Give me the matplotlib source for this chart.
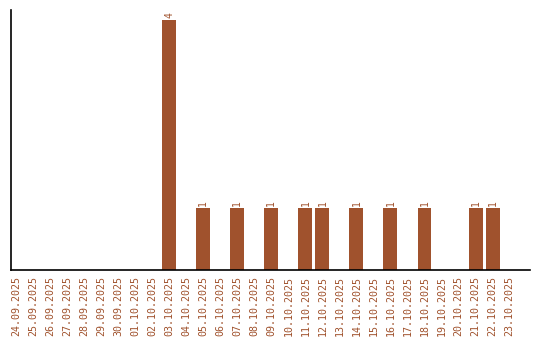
import matplotlib
matplotlib.use("Agg")
from matplotlib import pyplot as plt
import numpy as np

dates = ['24.09.2025', '25.09.2025', '26.09.2025', '27.09.2025', '28.09.2025',
         '29.09.2025', '30.09.2025', '01.10.2025', '02.10.2025', '03.10.2025',
         '04.10.2025', '05.10.2025', '06.10.2025', '07.10.2025', '08.10.2025',
         '09.10.2025', '10.10.2025', '11.10.2025', '12.10.2025', '13.10.2025',
         '14.10.2025', '15.10.2025', '16.10.2025', '17.10.2025', '18.10.2025',
         '19.10.2025', '20.10.2025', '21.10.2025', '22.10.2025', '23.10.2025']
counts = [0, 0, 0, 0, 0, 0, 0, 0, 0, 4,
          0, 1, 0, 1, 0, 1, 0, 1, 1, 0,
          1, 0, 1, 0, 1, 0, 0, 1, 1, 0]

color = '#A0522D'

fig = plt.figure(figsize=(5.4, 3.4), dpi=100)
ax = fig.add_axes([11 / 540, 70 / 340, 519 / 540, 260 / 340])

x = np.arange(len(dates))
ax.bar(x, counts, width=0.82, color=color)

# value labels above the non-empty bars
for xi, c in zip(x, counts):
    if c > 0:
        ax.text(xi, c + 0.03, str(c), rotation=90, ha='center', va='bottom',
                fontsize=7, family='DejaVu Sans Mono', color=color)

ax.set_xlim(-0.3, 30.2)
ax.set_ylim(0, 4.16)
ax.set_xticks(x)
ax.set_xticklabels(dates, rotation=90, fontsize=7.2, family='DejaVu Sans Mono', color=color)
ax.tick_params(axis='x', length=0, pad=4)
ax.set_yticks([])

for side in ['top', 'right']:
    ax.spines[side].set_visible(False)
ax.spines['left'].set_linewidth(1.2)
ax.spines['bottom'].set_linewidth(1.2)

plt.savefig("out.png", dpi=100)
